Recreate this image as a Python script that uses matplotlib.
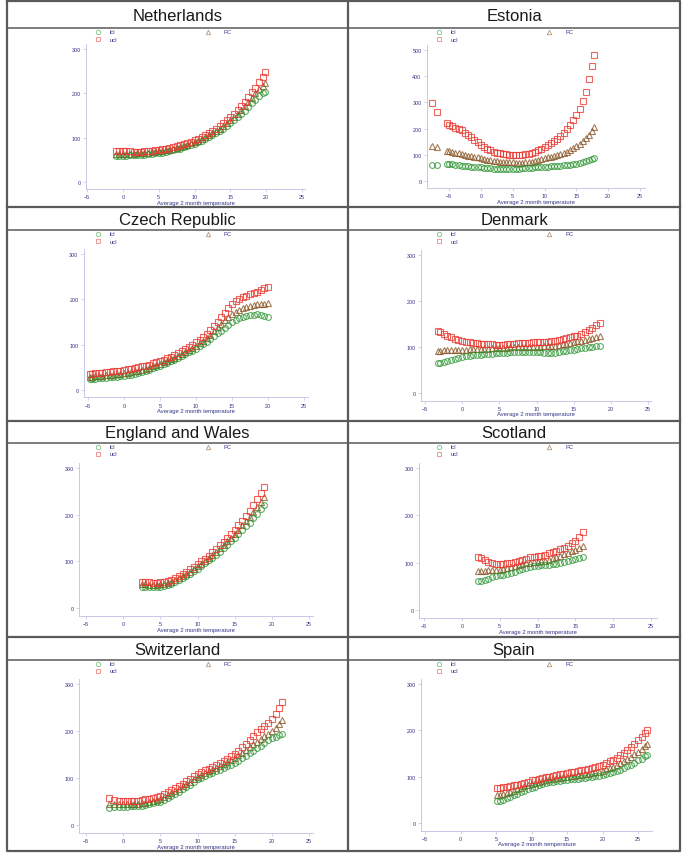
import numpy as np
import matplotlib.pyplot as plt

plt.rcParams['font.family'] = ['Liberation Sans', 'DejaVu Sans']

W, H = 682, 854

# ---------------- data ----------------
# Netherlands
nl_t = np.r_[np.arange(-1, 19.51, 0.5), 19.9]
nl_lcl = [58, 58.5, 59, 59.5, 60, 60.5, 61, 61.5, 62, 62.5, 63.5, 64.5, 65.5, 66.5, 68, 69.5,
          71.5, 73.5, 75.5, 78, 80.5, 83.5, 86.5, 89.5, 93, 97, 101, 105, 110, 115, 120, 126,
          132, 139, 146, 153, 161, 169, 178, 186, 194, 200, 203]
nl_pc = [64, 64, 64, 64, 64, 64, 64.5, 65, 65.5, 66, 67, 68, 69, 70, 71.5, 73, 75, 77, 79,
         81.5, 84, 87, 90, 93.5, 97, 101, 105, 110, 115, 120, 126, 132, 139, 146, 154, 162,
         171, 180, 190, 200, 209, 216, 223]
nl_ucl = [71, 70.5, 70, 69.5, 69, 68.5, 68.5, 68.5, 69, 69.5, 70.5, 71.5, 72.5, 73.5, 75, 76.5,
          78.5, 80.5, 82.5, 85, 88, 91, 94, 97.5, 101, 105, 109.5, 115, 120, 126, 132, 139,
          146, 154, 162, 171, 181, 191, 202, 213, 225, 236, 247]

# Estonia
ee_t = np.r_[-7.7, -6.9, -5.3, np.arange(-5, 17.51, 0.5), 17.8]
ee_lcl = [62, 62, 65, 64, 63, 62, 60, 59, 58, 56, 55, 54, 53, 52, 51, 50, 48, 47, 46, 46, 46,
          46, 46, 46, 47, 47, 48, 49, 50, 51, 52, 52, 53, 54, 55, 56, 57, 58, 59, 60, 60, 61,
          63, 66, 69, 73, 76, 80, 84, 88]
ee_pc = [132, 128, 116, 114, 111, 108, 105, 103, 100, 97, 95, 92, 90, 88, 85, 82, 80, 78, 76,
         74, 73, 72, 71, 71, 70, 70, 70, 71, 72, 74, 77, 80, 83, 87, 90, 93, 95, 98, 102, 106,
         112, 119, 126, 134, 143, 153, 164, 176, 190, 205]
ee_ucl = [296, 262, 221, 215, 210, 204, 199, 193, 185, 177, 168, 158, 148, 138, 130, 123, 117,
          112, 108, 105, 103, 102, 101, 100, 100, 100, 101, 102, 104, 107, 112, 117, 123, 130,
          137, 145, 152, 161, 172, 184, 198, 214, 232, 252, 276, 305, 340, 390, 440, 481]

# Czech Republic
cz_t = np.r_[-4.7, np.arange(-4.5, 19.51, 0.5), 20.0]
cz_lcl = [24, 24, 25, 25.5, 26, 27, 28, 28.5, 29, 30, 31, 32.5, 34, 36, 38, 40, 42.5, 45, 48,
          51, 54, 57, 60, 63.5, 67, 71, 75, 79, 83, 87, 91, 96, 101, 106, 112, 118.5, 125, 131,
          137, 143, 149, 154, 158, 161, 164, 165.5, 166.5, 167, 166, 164, 162]
cz_pc = [29, 29, 30, 30.5, 31, 32, 33, 34, 35, 36, 37, 38.5, 40, 41.5, 43, 45, 47, 49.5, 52,
         55, 58, 61, 64, 67.5, 71, 75, 79, 83.5, 88, 92.5, 97, 103, 109, 115, 122, 130, 138,
         146, 154, 161, 168, 173, 177, 180, 183, 185, 187, 189, 190, 190.5, 191]
cz_ucl = [36, 36, 37, 37.5, 38, 39, 40, 41, 42, 43, 44, 45.5, 47, 48.5, 50, 52, 54, 56, 59,
          61.5, 64, 67, 70, 73.5, 77, 81, 85, 89.5, 94, 99, 105, 111, 117, 124, 132, 141, 150,
          160, 170, 180, 189, 196, 201, 205, 208, 211, 214, 217, 220, 224, 228]

# Denmark
dk_t = np.r_[-3.2, np.arange(-3, 18.51, 0.5)]
dk_lcl = [65, 66, 68, 70, 72, 74, 76.5, 79, 80, 81, 82, 83, 83.5, 84, 85, 85.5, 86, 87, 87.5,
          88, 88.5, 89, 89.5, 90, 90, 89.5, 89, 89, 88.5, 88, 87.5, 87.5, 88, 89, 90.5, 92, 93,
          94.5, 96, 97, 98, 100, 101, 102, 103]
dk_pc = [92, 92, 92.5, 93, 93, 93.5, 94, 94, 94.5, 95, 95, 95.5, 96, 96, 96.5, 97, 97, 97.5,
         98, 98.5, 99, 99.5, 100, 100.5, 101, 101, 101, 101, 101, 101.5, 102, 102, 103, 104,
         105.5, 107, 108.5, 110, 112, 114, 116, 118, 120, 122.5, 125]
dk_ucl = [134, 132, 128, 124, 121, 118, 115, 112, 111, 110, 109, 108, 107.5, 107, 106, 105.5,
          105, 105, 105, 105.5, 106, 107, 108, 109, 109, 109.5, 110, 110, 110.5, 111, 111.5,
          112, 113, 115, 117, 119, 121, 123, 125, 128, 132, 137, 142, 147, 152]

# England and Wales
ew_t = np.r_[np.arange(2.5, 18.51, 0.5), 18.9]
ew_lcl = [46, 45.5, 45, 45, 45.5, 46, 47, 49, 52, 55.5, 59.5, 64, 68.5, 73.5, 78.5, 84, 90, 96,
          102, 108, 114, 121, 128, 135.5, 143, 151, 159, 167, 175, 183, 192, 202, 212, 220]
ew_pc = [51, 50.5, 50, 50, 50, 50.5, 51.5, 53.5, 56.5, 60, 64, 68.5, 73, 78, 83.5, 89, 95, 101,
         107.5, 114, 121, 128.5, 136, 143.5, 151, 159, 168, 177, 186, 195, 205, 216, 228, 238]
ew_ucl = [56, 55.5, 55, 54.5, 54.5, 55, 56, 58, 61, 65, 69, 73.5, 78, 83, 88.5, 94, 100, 106,
          112.5, 119, 126, 134, 142, 150, 159, 168, 177, 187, 197, 208, 220, 233, 247, 260]

# Scotland
sc_t = np.r_[2.2, np.arange(2.5, 16.01, 0.5)]
sc_lcl = [61, 62, 64, 66.5, 69, 71, 73, 75, 77, 79, 81, 83.5, 86, 88, 90, 92, 94, 95, 95.5,
          96, 96.5, 98, 100, 102, 104, 106, 108, 109.5, 111]
sc_pc = [83, 83, 83, 83.5, 84, 84.5, 85, 87, 89, 91.5, 94, 96, 97.5, 98.5, 99.5, 100.5, 101.5,
         102.5, 104, 106.5, 109, 112, 115, 118, 121, 124, 127, 130.5, 135]
sc_ucl = [111, 109, 105, 101.5, 99, 97.5, 97, 97.5, 98.5, 100, 102, 104, 106, 108.5, 111, 112.5,
          114, 115, 117, 119.5, 122, 125, 128.5, 132, 136, 141, 146, 154, 165]

# Switzerland
ch_t = np.r_[-1.9, -1.2, -0.5, np.arange(0, 21.01, 0.5), 21.4]
ch_lcl = [37, 38, 38.5, 39, 39, 39.5, 40, 40.5, 41, 42.5, 44, 46, 48, 50, 54, 58, 62, 66.5, 71,
          76, 81, 86, 91.5, 97, 101, 104.5, 108, 111.5, 115, 118, 121, 124.5, 128, 131, 136,
          141.5, 147, 152.5, 158, 163.5, 169, 174.5, 180, 185, 188, 191, 193]
ch_pc = [45, 44.5, 44, 44, 44, 44, 44.5, 45, 46, 47.5, 49, 51, 53, 55, 59, 63, 67.5, 72, 77, 82,
         87, 92, 97, 102, 106, 110, 114, 117.5, 121, 125, 129, 133, 137.5, 142, 148, 154, 160,
         166, 172, 177.5, 183, 189, 194.5, 200, 207, 215, 223]
ch_ucl = [57, 53, 51, 51, 50.5, 50.5, 51, 52, 53, 54.5, 56, 58, 60, 62, 65.5, 69.5, 74, 78.5, 83,
          88, 93, 98, 103.5, 109, 113, 116.5, 120, 123.5, 127, 131, 135.5, 140.5, 146, 152,
          158.5, 165, 172.5, 181, 190, 197, 204, 211, 218, 225, 236, 248, 261]

# Spain
es_t = np.r_[5.2, np.arange(5.5, 26.01, 0.5), 26.3]
es_lcl = [47, 48, 50, 53, 56.5, 60, 63, 66, 69.5, 73, 76, 78.5, 81, 83.5, 86, 88, 89.5, 90.5,
          91.5, 92.5, 93, 94, 95, 96, 97, 98, 99, 100, 101, 102, 103, 105, 107.5, 110, 112.5,
          115, 118.5, 122, 126, 130, 135, 139, 144, 146]
es_pc = [60, 61, 63, 65, 67.5, 70, 73, 76, 79, 82, 85, 87, 89, 91, 93, 95, 96, 97, 98, 99, 100,
         101, 102, 103, 104, 105, 106.5, 108, 109.5, 111, 113, 115.5, 118, 121, 125, 129, 133.5,
         138, 143, 148, 153, 159, 166, 171]
es_ucl = [75, 76, 77, 78.5, 80, 81, 83, 85, 87, 89.5, 92, 93.5, 95, 97, 98.5, 100, 101.5, 103,
          105, 106.5, 108, 109.5, 111, 112.5, 114, 115, 117, 119, 121, 123.5, 126, 129.5, 133,
          137, 141, 146, 152, 158, 164, 171, 179, 186, 195, 200]

titles = ["Netherlands", "Estonia", "Czech Republic", "Denmark",
          "England and Wales", "Scotland", "Switzerland", "Spain"]
series = [(nl_t, nl_lcl, nl_pc, nl_ucl), (ee_t, ee_lcl, ee_pc, ee_ucl),
          (cz_t, cz_lcl, cz_pc, cz_ucl), (dk_t, dk_lcl, dk_pc, dk_ucl),
          (ew_t, ew_lcl, ew_pc, ew_ucl), (sc_t, sc_lcl, sc_pc, sc_ucl),
          (ch_t, ch_lcl, ch_pc, ch_ucl), (es_t, es_lcl, es_pc, es_ucl)]
y_max = [300, 500, 300, 300, 300, 300, 300, 300]
x_ticks = [-5, 0, 5, 10, 15, 20, 25]

# ---------------- layout (pixels) ----------------
# pixel position of x=-5 and x=25, of y=0 and y=ymax, and axis extents
xref = [(87, 302), (449, 640), (88, 304), (425, 648),
        (86, 309), (424, 651), (86, 309), (425, 638)]
yref = [(183, 50), (182, 51), (391, 255), (394, 256),
        (609, 469), (611, 469), (826, 685), (824, 685)]
xlims = [(-5.1, 25.4), (-8.5, 25.8), (-5.6, 25.6), (-5.5, 25.4),
         (-5.9, 25.5), (-5.7, 25.8), (-5.9, 25.5), (-5.6, 27.0)]

col_x = [7, 348, 680]
row_top = [2, 208, 422, 638]
title_bot = [29, 231, 444, 661]
bottom = 852

GREEN = '#2a9430'
RED = '#e8342c'
BROWN = '#85501f'
NAVY = '#34348a'
AXC = '#bfc0e4'

fig = plt.figure(figsize=(W / 100, H / 100), dpi=100)

# frame of the table
frame = fig.add_axes([0, 0, 1, 1])
frame.set_xlim(0, W)
frame.set_ylim(H, 0)
frame.set_axis_off()
frame.plot([col_x[0], col_x[2], col_x[2], col_x[0], col_x[0]],
           [row_top[0], row_top[0], bottom, bottom, row_top[0]], color='#5a5a5a', lw=1.6)
frame.plot([col_x[1], col_x[1]], [row_top[0], bottom], color='#5a5a5a', lw=1.6)
for r in row_top[1:]:
    frame.plot([col_x[0], col_x[2]], [r, r], color='#5a5a5a', lw=1.6)
for r in title_bot:
    frame.plot([col_x[0], col_x[2]], [r, r], color='#5a5a5a', lw=1.1)

for i in range(8):
    row, col = divmod(i, 2)
    cx = (col_x[col] + col_x[col + 1]) / 2
    cy = (row_top[row] + title_bot[row]) / 2
    frame.text(cx, cy + 1, titles[i], ha='center', va='center', fontsize=12, color='#1a1a1a')

    # legend
    lx = col_x[col] + 91
    ly = title_bot[row] + 4
    frame.plot(lx, ly, 'o', mfc='none', mec=GREEN, ms=3.2, mew=0.6, alpha=0.6)
    frame.plot(lx, ly + 7, 's', mfc='none', mec=RED, ms=3.0, mew=0.6, alpha=0.6)
    frame.plot(lx + 110, ly, '^', mfc='none', mec=BROWN, ms=3.2, mew=0.6, alpha=0.6)
    frame.text(lx + 12, ly, 'lcl', fontsize=4.2, color=NAVY, va='center')
    frame.text(lx + 12, ly + 7, 'ucl', fontsize=4.2, color=NAVY, va='center')
    frame.text(lx + 126, ly, 'PC', fontsize=4.2, color=NAVY, va='center')

    # axes box from tick references
    (xa, xb), (y0, y1) = xref[i], yref[i]
    sx = (xb - xa) / 30.0
    sy = (y0 - y1) / y_max[i]
    x0, x1 = xlims[i]
    ylo, yhi = -0.055 * y_max[i], 1.035 * y_max[i]
    left = xa + (x0 + 5) * sx
    right = xa + (x1 + 5) * sx
    top = y0 - yhi * sy
    bot = y0 - ylo * sy
    ax = fig.add_axes([left / W, 1 - bot / H, (right - left) / W, (bot - top) / H])
    ax.set_facecolor('none')
    ax.set_xlim(x0, x1)
    ax.set_ylim(ylo, yhi)

    t, lcl, pc, ucl = series[i]
    ax.plot(t, pc, '^', mfc='none', mec=BROWN, ms=4.4, mew=0.8, alpha=0.75, ls='none')
    ax.plot(t, lcl, 'o', mfc='none', mec=GREEN, ms=4.2, mew=0.8, alpha=0.75, ls='none')
    ax.plot(t, ucl, 's', mfc='none', mec=RED, ms=4.0, mew=0.8, alpha=0.75, ls='none')

    ax.set_xticks(x_ticks)
    ax.set_yticks(range(0, y_max[i] + 1, 100))
    for s in ['top', 'right']:
        ax.spines[s].set_visible(False)
    for s in ['left', 'bottom']:
        ax.spines[s].set_color(AXC)
        ax.spines[s].set_linewidth(0.6)
    ax.tick_params(length=2.2, width=0.5, color=AXC, labelsize=3.9, labelcolor=NAVY, pad=1.5)
    ax.set_xlabel('Average 2 month temperature', fontsize=4.2, color=NAVY, labelpad=0.5)

fig.savefig('out.png', dpi=100)
